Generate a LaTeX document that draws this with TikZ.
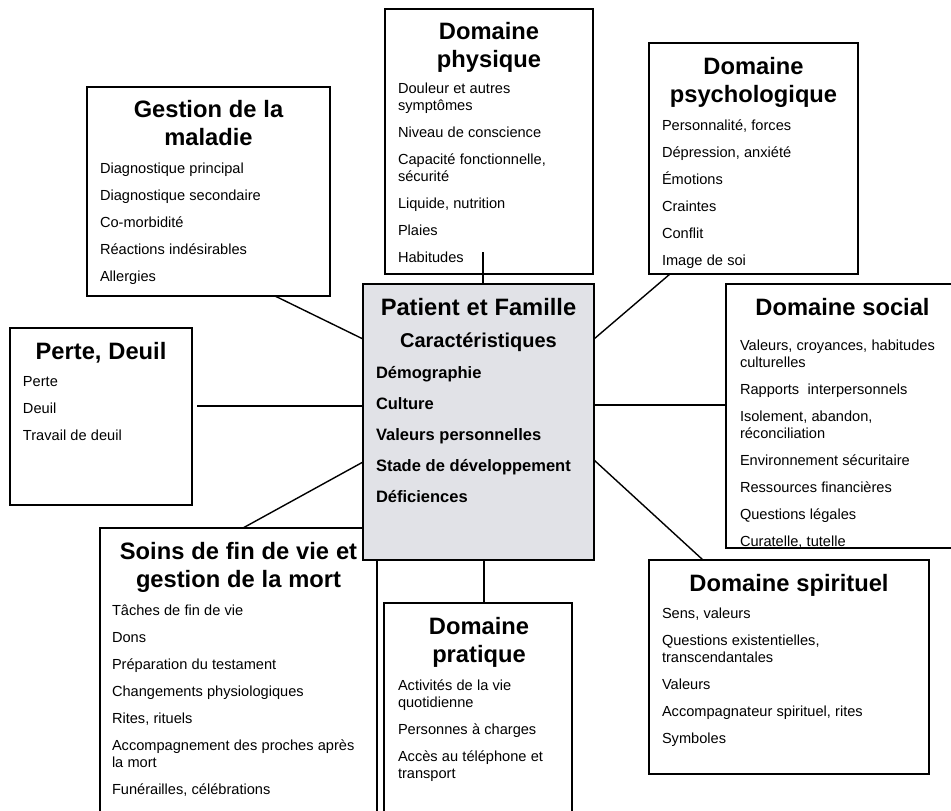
\documentclass[tikz,border=0pt]{standalone}
\usepackage{fontspec}
\setmainfont{Liberation Sans}
\usetikzlibrary{positioning}
\definecolor{centregris}{RGB}{225,226,231}
\newcommand\wordgap{\spaceskip=0.29em plus 0.05em minus 0.02em\relax}
\newcommand\boxtitle[1]{{\centering\fontsize{23.7}{28.5}\selectfont\bfseries\wordgap #1\par}\vspace{10.5pt}}
\newcommand\boxitem[1]{{\fontsize{14.6}{17}\selectfont\wordgap #1\par}\vspace{10pt}}
\tikzset{
  box/.style={draw, line width=1.8pt, fill=white, inner sep=0pt, outer sep=0pt, anchor=north west},
  txt/.style={inner sep=0pt, outer sep=0pt, anchor=north west},
  conn/.style={line width=1.4pt}
}

\begin{document}
\begin{tikzpicture}[x=1pt, y=-1pt]
		%%%%% START %%%%%
		\useasboundingbox (0,0) rectangle (951,811);
		
		\node[box, minimum width=277pt, minimum height=290pt] (soins) at (100,528) {};
		\node[box, minimum width=243pt, minimum height=209pt] (gest) at (87,87) {};
		\node[box, minimum width=208pt, minimum height=265pt] (phys) at (385,9) {};
		\node[box, minimum width=209pt, minimum height=231pt] (psy) at (649,43) {};
		\node[box, minimum width=231pt, minimum height=264pt] (soc) at (726,284) {};
		\node[box, minimum width=182pt, minimum height=177pt] (perte) at (10,328) {};
		\node[box, minimum width=188pt, minimum height=215pt] (prat) at (384,603) {};
		\node[box, minimum width=280pt, minimum height=214pt] (spir) at (649,560) {};
		\node[box, fill=centregris, minimum width=231pt, minimum height=276pt] (cent) at (363,284) {};
		
		\draw[conn] ([xshift=188pt]gest.south west) -- ([yshift=-55pt]cent.north west);
		\draw[conn] ([xshift=98pt, yshift=22pt]phys.south west) -- ([xshift=120pt]cent.north west);
		\draw[conn] ([xshift=21pt]psy.south west) -- ([yshift=-55pt]cent.north east);
		\draw[conn] ([yshift=-121pt]cent.north east) -- ([yshift=-121pt]soc.north west);
		\draw[conn] ([yshift=-176pt]cent.north east) -- ([xshift=54pt]spir.north west);
		\draw[conn] ([xshift=121pt]cent.south west) -- ([xshift=100pt]prat.north west);
		\draw[conn] ([yshift=-178pt]cent.north west) -- ([xshift=143pt]soins.north west);
		\draw[conn] ([xshift=5pt, yshift=-78pt]perte.north east) -- ([yshift=-122pt]cent.north west);
		
		\node[txt, text width=217pt, below right=13pt and 13pt of gest.north west] (gesttxt) {\raggedright
			\boxtitle{Gestion de la\\maladie}
			\boxitem{Diagnostique principal}
			\boxitem{Diagnostique secondaire}
			\boxitem{Co-morbidité}
			\boxitem{Réactions indésirables}
			\boxitem{Allergies}};
		
		\node[txt, text width=182pt, below right=13pt and 13pt of phys.north west] (phystxt) {\raggedright
			\boxtitle{Domaine\\physique}\vspace{-1.5pt}
			\boxitem{Douleur et autres\\symptômes}
			\boxitem{Niveau de conscience}
			\boxitem{Capacité fonctionnelle,\\sécurité}
			\boxitem{Liquide, nutrition}
			\boxitem{Plaies}
			\boxitem{Habitudes}};
		
		\node[txt, text width=183pt, below right=14pt and 13pt of psy.north west] (psytxt) {\raggedright
			\boxtitle{Domaine\\psychologique}
			\boxitem{Personnalité, forces}
			\boxitem{Dépression, anxiété}
			\boxitem{Émotions}
			\boxitem{Craintes}
			\boxitem{Conflit}
			\boxitem{Image de soi}};
		
		\node[txt, text width=205pt, below right=14pt and 14pt of soc.north west] (soctxt) {\raggedright
			\boxtitle{Domaine social}\vspace{8pt}
			\boxitem{Valeurs, croyances, habitudes\\culturelles}
			\boxitem{Rapports\ \ interpersonnels}
			\boxitem{Isolement, abandon,\\réconciliation}
			\boxitem{Environnement sécuritaire}
			\boxitem{Ressources financières}
			\boxitem{Questions légales}
			\boxitem{Curatelle, tutelle}};
		
		\node[txt, text width=156pt, below right=14pt and 13pt of perte.north west] (pertetxt) {\raggedright
			\boxtitle{Perte, Deuil}
			\boxitem{Perte}
			\boxitem{Deuil}
			\boxitem{Travail de deuil}};
		
		\node[txt, text width=253pt, below right=14pt and 12pt of soins.north west] (soinstxt) {\raggedright
			\boxtitle{Soins de fin de vie et\\gestion de la mort}
			\boxitem{Tâches de fin de vie}
			\boxitem{Dons}
			\boxitem{Préparation du testament}
			\boxitem{Changements physiologiques}
			\boxitem{Rites, rituels}
			\boxitem{Accompagnement des proches après\\la mort}
			\boxitem{Funérailles, célébrations}};
		
		\node[txt, text width=162pt, below right=14pt and 14pt of prat.north west] (prattxt) {\raggedright
			\boxtitle{Domaine\\pratique}
			\boxitem{Activités de la vie\\quotidienne}
			\boxitem{Personnes à charges}
			\boxitem{Accès au téléphone et\\transport}};
		
		\node[txt, text width=254pt, below right=14pt and 13pt of spir.north west] (spirtxt) {\raggedright
			\boxtitle{Domaine spirituel}
			\boxitem{Sens, valeurs}
			\boxitem{Questions existentielles,\\transcendantales}
			\boxitem{Valeurs}
			\boxitem{Accompagnateur spirituel, rites}
			\boxitem{Symboles}};
		
		\node[txt, text width=205pt, below right=14pt and 13pt of cent.north west] (centtxt) {\raggedright
			{\centering\fontsize{23.7}{28.5}\selectfont\bfseries\wordgap Patient et Famille\par}
			{\centering\fontsize{20}{32}\selectfont\bfseries Caractéristiques\par}
			{\fontsize{16.5}{31}\selectfont\bfseries\wordgap Démographie\\Culture\\Valeurs personnelles\\Stade de développement\\Déficiences\par}};
		
		%%%%% END %%%%%
	\end{tikzpicture}
\end{document}
